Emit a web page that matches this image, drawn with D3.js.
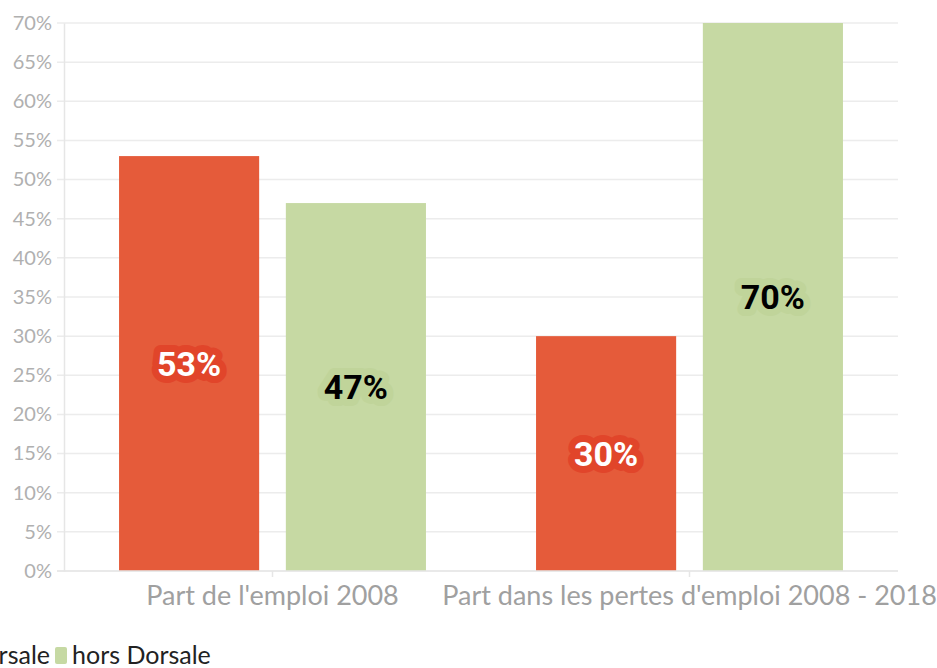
<!DOCTYPE html>
<html>
<head>
<meta charset="utf-8">
<script src="https://cdn.jsdelivr.net/npm/d3@7"></script>
<style>
  body { margin: 0; background: #fff; }
  svg { display: block; font-family: Lato, 'Noto Sans', sans-serif; }
</style>
</head>
<body>
<div id="chart"></div>
<script>
var categories = ["Part de l'emploi 2008", "Part dans les pertes d'emploi 2008 - 2018"]
var series = ['Dorsale', 'hors Dorsale']
var dorsale = [53, 30]
var horsDorsale = [47, 70]
var yTicks = [0, 5, 10, 15, 20, 25, 30, 35, 40, 45, 50, 55, 60, 65, 70]

var colors = { 'Dorsale': '#e55b3a', 'hors Dorsale': '#c6d9a3' }
var halo = { 'Dorsale': '#e1452a', 'hors Dorsale': '#c0d49a' }
var labelColor = { 'Dorsale': '#ffffff', 'hors Dorsale': '#000000' }

var width = 937
var height = 668
var margin = { top: 23, right: 39, bottom: 97, left: 64 }

var svg = d3.select('#chart').append('svg')
  .attr('width', width)
  .attr('height', height)

var y = d3.scaleLinear()
  .domain([0, 70])
  .range([height - margin.bottom, margin.top])

var x0 = d3.scaleBand()
  .domain(categories)
  .range([margin.left, width - margin.right])

var x1 = d3.scaleBand()
  .domain(series)
  .range([0, x0.bandwidth()])
  .paddingInner(0.16)
  .paddingOuter(0.33)

// grid lines
svg.append('g')
  .selectAll('line')
  .data(yTicks)
  .enter().append('line')
  .attr('x1', margin.left - 7)
  .attr('x2', width - margin.right)
  .attr('y1', function (d) { return y(d) })
  .attr('y2', function (d) { return y(d) })
  .style('stroke', '#ececec')
  .style('stroke-width', 1.5)

// y axis
var yAxis = svg.append('g')
  .attr('transform', 'translate(' + margin.left + ',0)')
  .call(d3.axisLeft(y).tickValues(yTicks).tickSize(0).tickPadding(12)
    .tickFormat(function (d) { return d + '%' }))
yAxis.select('.domain').style('stroke', '#e6e6e6').style('stroke-width', 1.5)
yAxis.selectAll('text')
  .style('font-size', '20px')
  .style('fill', '#b0b0b0')
  .style('font-family', 'Lato, sans-serif')

// bars
var rows = categories.map(function (c, i) {
  return { cat: c, values: [{ key: 'Dorsale', value: dorsale[i] }, { key: 'hors Dorsale', value: horsDorsale[i] }] }
})

var groups = svg.selectAll('.group')
  .data(rows)
  .enter().append('g')
  .attr('class', 'group')
  .attr('transform', function (d) { return 'translate(' + x0(d.cat) + ',0)' })

groups.selectAll('rect')
  .data(function (d) { return d.values })
  .enter().append('rect')
  .attr('x', function (d) { return x1(d.key) })
  .attr('y', function (d) { return y(d.value) })
  .attr('width', x1.bandwidth())
  .attr('height', function (d) { return y(0) - y(d.value) })
  .style('fill', function (d) { return colors[d.key] })

groups.selectAll('text.val')
  .data(function (d) { return d.values })
  .enter().append('text')
  .attr('class', 'val')
  .attr('x', function (d) { return x1(d.key) + x1.bandwidth() / 2 })
  .attr('y', function (d) { return y(d.value / 2) })
  .attr('dy', '0.36em')
  .style('text-anchor', 'middle')
  .style('font-family', 'Roboto, sans-serif')
  .style('font-weight', 'bold')
  .style('font-size', '34px')
  .style('fill', function (d) { return labelColor[d.key] })
  .style('stroke', function (d) { return halo[d.key] })
  .style('stroke-width', 14)
  .style('stroke-linejoin', 'round')
  .style('paint-order', 'stroke')
  .text(function (d) { return d.value + '%' })

// x axis
var xAxis = svg.append('g')
  .attr('transform', 'translate(0,' + y(0) + ')')
  .call(d3.axisBottom(x0).tickSize(6).tickPadding(9))
xAxis.select('.domain')
  .attr('d', 'M' + (margin.left - 7) + ',0H' + (width - margin.right))
  .style('stroke', '#e6e6e6').style('stroke-width', 1.5)
xAxis.selectAll('.tick line').style('stroke', '#e6e6e6').style('stroke-width', 1.5)
xAxis.selectAll('text')
  .style('font-size', '27px')
  .style('fill', '#a0a0a0')
  .style('font-family', 'Lato, sans-serif')

// legend (partly cut off at the left edge, as in the original)
var legend = svg.append('g')
  .attr('transform', 'translate(0,' + (height - 4) + ')')

var items = legend.selectAll('.item')
  .data(series)
  .enter().append('g')
  .attr('class', 'item')

items.append('rect')
  .attr('x', 0)
  .attr('y', -17)
  .attr('width', 12)
  .attr('height', 17)
  .attr('rx', 2)
  .style('fill', function (d) { return colors[d] })

items.append('text')
  .attr('x', 17)
  .attr('y', 0)
  .style('font-size', '25px')
  .style('fill', '#222')
  .text(function (d) { return d })

// lay out items so that the second swatch sits at x = 55
var firstW = items.filter(function (d, i) { return i === 0 }).select('text').node().getComputedTextLength()
items.attr('transform', function (d, i) {
  return 'translate(' + (i === 0 ? 55 - 5 - 17 - firstW : 55) + ',0)'
})
</script>
</body>
</html>
